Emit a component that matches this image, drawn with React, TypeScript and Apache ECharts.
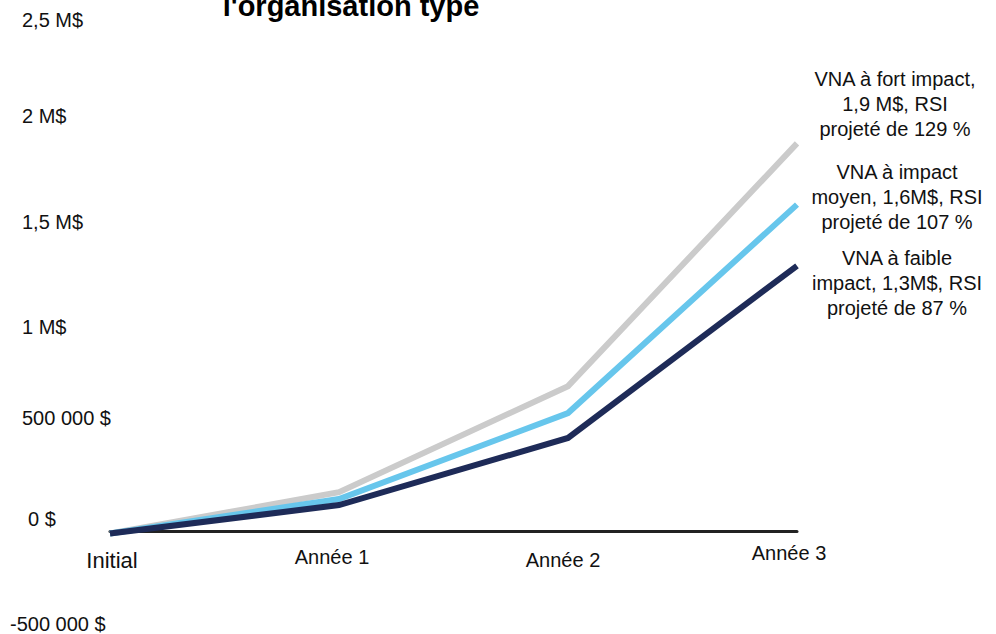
import React, { useEffect, useRef } from "react";
import * as echarts from "echarts";

// Cumulative net present value (M$) per period, per impact scenario
const categories = ["Initial", "Année 1", "Année 2", "Année 3"];
const fortImpact = [-0.012, 0.19, 0.71, 1.9];
const moyenImpact = [-0.012, 0.157, 0.578, 1.6];
const faibleImpact = [-0.012, 0.127, 0.456, 1.3];

// Value axis ticks and their printed labels
const yTicks = [-0.5, 0, 0.5, 1, 1.5, 2, 2.5];
const yTickLabels = ["-500 000 $", "0 $", "500 000 $", "1 M$", "1,5 M$", "2 M$", "2,5 M$"];

// Scenario captions shown at the end of each line
const seriesNames = ["VNA à fort impact", "VNA à impact moyen", "VNA à faible impact"];
const endNotes = [
  "VNA à fort impact,\n1,9 M$, RSI\nprojeté de 129 %",
  "VNA à impact\nmoyen, 1,6M$, RSI\nprojeté de 107 %",
  "VNA à faible\nimpact, 1,3M$, RSI\nprojeté de 87 %",
];

const titleText = "l'organisation type";

const FONT = "'Liberation Sans', Arial, Helvetica, sans-serif";
const colors = ["#cbcbcb", "#67c6ec", "#1e2b58"];

// per-label nudges for the value axis: [up shift, left padding]
const yLabelNudge: [number, number][] = [
  [9, 0],
  [12, 18],
  [11, 12],
  [0, 12],
  [3, 12],
  [7, 12],
  [1, 12],
];
// per-label nudges for the category axis: [down shift, horizontal shift (+ right), font size]
const xLabelNudge: [number, number, number][] = [
  [6, 2, 22],
  [4, -7, 20],
  [7, -5, 20],
  [0, -8, 20],
];

export default function App() {
  const ref = useRef<HTMLDivElement>(null);

  useEffect(() => {
    if (!ref.current) return;
    const chart = echarts.init(ref.current, null, { renderer: "svg" });

    const yRich: Record<string, any> = {};
    yTicks.forEach((_, i) => {
      const [up, left] = yLabelNudge[i];
      yRich["y" + i] = {
        fontFamily: FONT,
        fontSize: 20,
        color: "#111",
        padding: [0, 0, up * 2, left],
      };
    });
    const xRich: Record<string, any> = {};
    categories.forEach((_, i) => {
      const [down, shift, size] = xLabelNudge[i];
      xRich["x" + i] = {
        fontFamily: FONT,
        fontSize: size,
        color: "#111",
        padding: [down, shift < 0 ? -shift * 2 : 0, 0, shift > 0 ? shift * 2 : 0],
      };
    });

    const data = [fortImpact, moyenImpact, faibleImpact];
    const endOffsets: [number, number][] = [
      [98, -39],
      [100, -8],
      [100, 17],
    ];

    const gridTop = 21;
    const gridBottom = 1;
    const yMin = -0.5;
    const yMax = 2.5;
    // shift the category axis (line and labels) up onto the zero value
    const plotH = 634 - gridTop - gridBottom;
    const zeroShift = (plotH * (0 - yMin)) / (yMax - yMin);

    chart.setOption({
      animation: false,
      backgroundColor: "#ffffff",
      textStyle: { fontFamily: FONT },
      grid: {
        left: 110,
        right: 199,
        top: gridTop,
        bottom: gridBottom,
        containLabel: false,
        outerBoundsMode: "none",
      },
      xAxis: {
        type: "category",
        data: categories,
        boundaryGap: false,
        offset: -zeroShift,
        axisLine: { onZero: false, lineStyle: { color: "#222222", width: 3 } },
        axisTick: { show: false },
        splitLine: { show: false },
        axisLabel: {
          margin: 12,
          interval: 0,
          formatter: (v: string, i: number) => `{x${i}|${v}}`,
          rich: xRich,
        },
      },
      yAxis: {
        type: "value",
        min: yMin,
        max: yMax,
        interval: 0.5,
        axisLine: { show: false },
        axisTick: { show: false },
        splitLine: { show: false },
        axisLabel: {
          align: "left",
          margin: 100,
          formatter: (v: number) => {
            const i = yTicks.findIndex((t) => Math.abs(t - v) < 1e-6);
            return i < 0 ? "" : `{y${i}|${yTickLabels[i]}}`;
          },
          rich: yRich,
        },
      },
      graphic: [
        {
          type: "text",
          x: 351,
          y: 6,
          style: {
            text: titleText,
            fontFamily: FONT,
            fontSize: 29,
            fontWeight: "bold",
            fill: "#000",
            align: "center",
            verticalAlign: "middle",
          },
        },
      ],
      series: data.map((values, i) => ({
        name: seriesNames[i],
        type: "line",
        data: values,
        symbol: "none",
        z: 2 + i,
        lineStyle: { color: colors[i], width: 6, cap: "butt", join: "miter" },
        endLabel: {
          show: true,
          formatter: () => endNotes[i],
          fontFamily: FONT,
          fontSize: 20,
          lineHeight: 25,
          color: "#111",
          align: "center",
          verticalAlign: "middle",
          distance: 0,
          offset: endOffsets[i],
        },
      })),
    });

    return () => chart.dispose();
  }, []);

  return <div ref={ref} style={{ width: 996, height: 634, position: "absolute", left: 0, top: 0 }} />;
}
